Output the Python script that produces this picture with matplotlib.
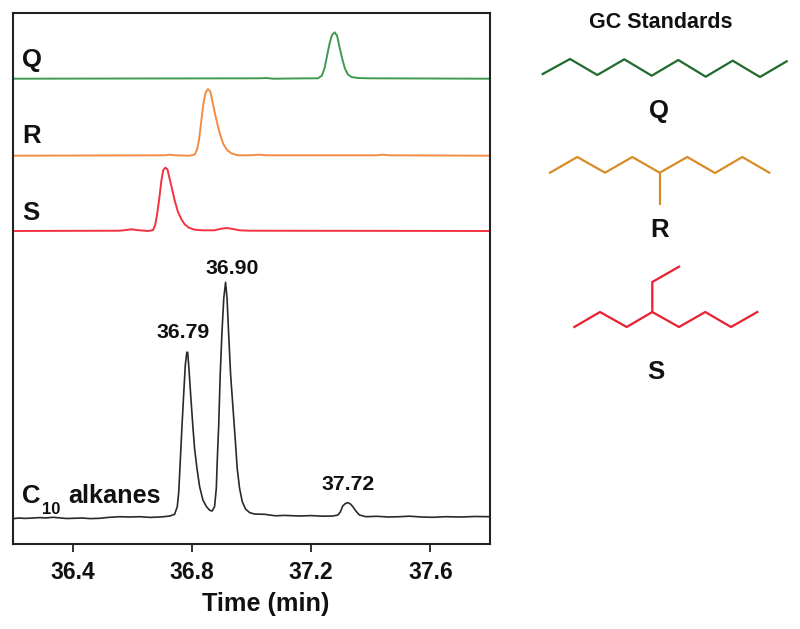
import matplotlib
matplotlib.use("Agg")
import matplotlib.pyplot as plt

plt.rcParams['font.family'] = ['Liberation Sans', 'DejaVu Sans']
plt.rcParams['font.weight'] = 'bold'

# traces (time in min, signal in a.u.)
t_c10 = [36.2, 36.22, 36.24, 36.268, 36.29, 36.31, 36.335, 36.36, 36.38, 36.402, 36.43, 36.46, 36.491, 36.52,
         36.558, 36.59, 36.625, 36.66, 36.692, 36.709, 36.726, 36.742, 36.751, 36.756, 36.761, 36.767, 36.773,
         36.778, 36.783, 36.786, 36.79, 36.796, 36.803, 36.809, 36.817, 36.826, 36.837, 36.849, 36.86, 36.868,
         36.876, 36.882, 36.885, 36.89, 36.895, 36.901, 36.907, 36.913, 36.918, 36.923, 36.93, 36.938, 36.946,
         36.952, 36.96, 36.969, 36.98, 36.994, 37.01, 37.044, 37.08, 37.11, 37.161, 37.2, 37.24, 37.273, 37.29,
         37.298, 37.306, 37.315, 37.323, 37.332, 37.34, 37.35, 37.362, 37.384, 37.42, 37.46, 37.496, 37.53,
         37.57, 37.608, 37.65, 37.7, 37.75, 37.8]
y_c10 = [25.3, 26, 25.6, 26, 26.4, 26.1, 26.7, 26, 25.5, 25.7, 26, 25.4, 25.7, 26.6,
         27.3, 27, 27.3, 26.6, 27, 27.4, 28, 29.7, 37.3, 52.3, 82.3, 119, 152.3,
         179, 191.7, 191.7, 175.7, 149, 119, 95.7, 75.7, 57.3, 44, 37.3, 33.7, 33,
         37.3, 55.7, 82.3, 119, 169, 212.3, 245.7, 261.7, 245.7, 212.3, 169, 135.7, 102.3,
         75.7, 55.7, 42.3, 35, 31.3, 30, 29.7, 28.2, 28.6, 28, 28.4, 27.8, 28, 29,
         32, 38, 40.5, 41.3, 40, 37.3, 33, 29, 27.3, 27.7, 27, 27.3, 27.8,
         27, 26.7, 27.3, 27, 27.5, 27.3]

t_q = [36.2, 37.027, 37.05, 37.072, 37.195, 37.223, 37.236, 37.245, 37.254, 37.262, 37.27, 37.279, 37.287,
       37.295, 37.304, 37.313, 37.323, 37.335, 37.357, 37.396, 37.8]
y_q = [465.3, 465.7, 466, 465.3, 465.7, 465.7, 468.3, 475.7, 489, 500.7, 509, 511.7, 508.3,
       497.3, 485.7, 475.7, 469.7, 467, 466, 465.7, 465.3]

t_r = [36.2, 36.709, 36.726, 36.743, 36.792, 36.809, 36.817, 36.824, 36.832, 36.839, 36.846, 36.854, 36.862,
       36.868, 36.876, 36.885, 36.895, 36.906, 36.918, 36.932, 36.954, 36.993, 37.027, 37.05, 37.418, 37.44,
       37.463, 37.8]
y_r = [388.3, 388.7, 389.3, 388.7, 388.3, 389.3, 394, 404, 424, 440.7, 451.3, 455, 452.3,
       444, 432.3, 420.7, 409, 399.7, 394, 390.7, 388.7, 388.7, 389.3, 388.7, 388.7, 389.3,
       388.7, 388.3]

t_s = [36.2, 36.558, 36.58, 36.597, 36.615, 36.625, 36.653, 36.67, 36.677, 36.683, 36.69, 36.698, 36.704,
       36.711, 36.718, 36.725, 36.733, 36.742, 36.753, 36.765, 36.776, 36.79, 36.809, 36.837, 36.876, 36.898,
       36.917, 36.938, 36.96, 36.993, 37.8]
y_s = [313, 313.3, 314, 314.7, 314, 313.7, 313, 314, 319, 329, 344, 364, 374,
       376.3, 374.7, 365.7, 355.7, 344, 332.3, 324.7, 319.7, 316.3, 314.3, 313.7, 313.7, 315.3,
       316, 315, 313.7, 313.3, 313]

xticks = [36.4, 36.8, 37.2, 37.6]

# molecule skeletons, in picture pixels
q_x = [542.7, 570, 597.3, 624.3, 651.7, 678.3, 705.7, 732.7, 760, 786.7]
q_y = [74, 59, 75, 59.3, 75.7, 60, 76.7, 60.7, 77, 61.3]
r_x = [550, 577.3, 605, 632.3, 659.7, 687.3, 715, 742.3, 769.3]
r_y = [172.7, 157, 172.7, 157, 172.7, 157, 173, 157, 172.7]
r_branch_x = [659.7, 659.7]
r_branch_y = [172.7, 204]
s_x = [574.3, 600, 626.7, 652.3, 679, 705.3, 731, 757.3]
s_y = [327, 312, 327, 312, 327, 312, 327, 312]
s_branch_x = [652.3, 652.3, 679]
s_branch_y = [312, 282, 266.7]

fig = plt.figure(figsize=(8, 6.29), dpi=100)
ax = fig.add_axes([13 / 800, 85 / 629, 477 / 800, 531 / 629])

ax.plot(t_q, y_q, color="#3f9a4f", lw=1.4, solid_joinstyle="round")
ax.plot(t_r, y_r, color="#f28c45", lw=1.4, solid_joinstyle="round")
ax.plot(t_s, y_s, color="#f4323f", lw=1.4, solid_joinstyle="round")
ax.plot(t_c10, y_c10, color="#2a2a2a", lw=1.2, solid_joinstyle="round")

ax.set_xlim(36.2, 37.8)
ax.set_ylim(0, 531)
ax.set_yticks([])
ax.set_xticks(xticks)
ax.set_xticklabels(["36.4", "36.8", "37.2", "37.6"])
ax.tick_params(axis="x", direction="out", length=6, width=1.3, color="#222222", labelsize=16.5, pad=6.5,
               labelcolor="#111111")
for s in ax.spines.values():
    s.set_linewidth(1.5)
    s.set_color("#222222")
ax.set_xlabel("Time (min)", fontsize=18.2, fontweight="bold", labelpad=5.5, color="#111111", x=0.53)

ax.text(36.771, 211, "36.79", fontsize=15.3, ha="center", va="center", color="#111111")
ax.text(36.935, 275.5, "36.90", fontsize=15.3, ha="center", va="center", color="#111111")
ax.text(37.324, 59.5, "37.72", fontsize=15.3, ha="center", va="center", color="#111111")

# overlay in picture pixels for labels and structures
ov = fig.add_axes([0, 0, 1, 1])
ov.set_xlim(0, 800)
ov.set_ylim(629, 0)
ov.axis("off")
ov.patch.set_alpha(0)

ov.plot(q_x, q_y, color="#1f6a2c", lw=1.6)
ov.plot(r_x, r_y, color="#d98c26", lw=1.6)
ov.plot(r_branch_x, r_branch_y, color="#d98c26", lw=1.6)
ov.plot(s_x, s_y, color="#e8202f", lw=1.6)
ov.plot(s_branch_x, s_branch_y, color="#e8202f", lw=1.6)

ov.text(22, 60.5, "Q", fontsize=18.5, ha="left", va="center", color="#111111")
ov.text(22, 136, "R", fontsize=18.5, ha="left", va="center", color="#111111")
ov.text(22, 212.5, "S", fontsize=18.5, ha="left", va="center", color="#111111")
ov.text(22, 503, "C", fontsize=18.5, ha="left", va="baseline", color="#111111")
ov.text(42, 514, "10", fontsize=12, ha="left", va="baseline", color="#111111")
ov.text(68, 503, "alkanes", fontsize=18.2, ha="left", va="baseline", color="#111111")

ov.text(661, 22.5, "GC Standards", fontsize=15.5, ha="center", va="center", color="#111111")
ov.text(659, 111, "Q", fontsize=18.5, ha="center", va="center", color="#111111")
ov.text(660, 230, "R", fontsize=18.5, ha="center", va="center", color="#111111")
ov.text(656, 372, "S", fontsize=18.5, ha="center", va="center", color="#111111")

fig.savefig("out.png", dpi=100)
